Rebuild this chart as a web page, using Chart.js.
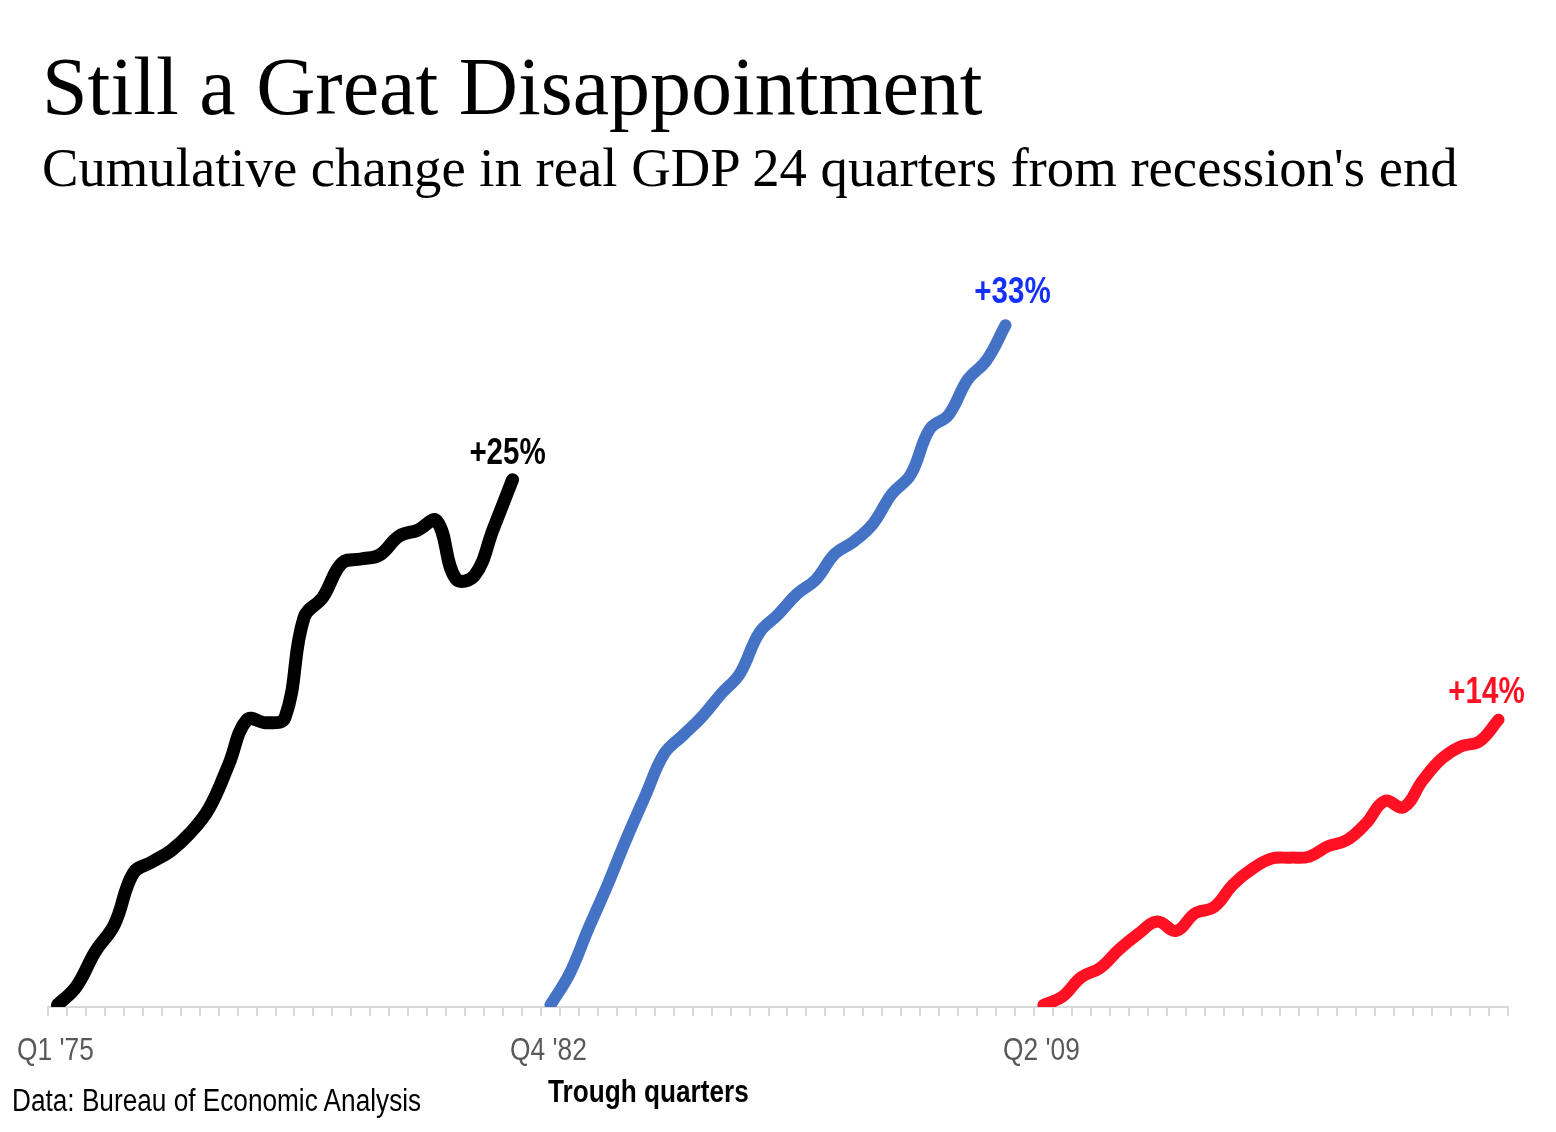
<!DOCTYPE html>
<html>
<head>
<meta charset="utf-8">
<script src="https://cdn.jsdelivr.net/npm/chart.js@4"></script>
<style>
  html, body { margin: 0; padding: 0; background: #ffffff; }
  body { width: 1556px; height: 1132px; position: relative; overflow: hidden; }
  #chart { position: absolute; left: 0; top: 0; }
  .t { position: absolute; white-space: nowrap; line-height: 1; margin: 0; }
  .narrow { font-family: "Liberation Sans Narrow", "Arial Narrow", "Liberation Sans", Arial, sans-serif; transform: scaleX(0.845); transform-origin: 0 0; }
  #title { left: 42px; top: 46px; font-family: "Liberation Serif", "Times New Roman", serif; font-size: 82px; color: #000; }
  #subtitle { left: 42px; top: 141px; font-family: "Liberation Serif", "Times New Roman", serif; font-size: 54.7px; color: #000; }
  #source { left: 12px; top: 1085px; font-size: 31px; color: #000; }
  #xtitle { left: 548px; top: 1076px; font-size: 31px; font-weight: bold; color: #000; }
</style>
</head>
<body>
<canvas id="chart" width="1556" height="1132"></canvas>
<div class="t" id="title">Still a Great Disappointment</div>
<div class="t" id="subtitle">Cumulative change in real GDP 24 quarters from recession's end</div>
<div class="t narrow" id="source">Data: Bureau of Economic Analysis</div>
<div class="t narrow" id="xtitle">Trough quarters</div>
<script>
// Trough quarters (start of each recovery) and the end-of-period labels
const troughLabels = ["Q1 '75", "Q4 '82", "Q2 '09"];
const endLabels = ["+25%", "+33%", "+14%"];
const quartersPerRecovery = 25; // quarter 0 .. quarter 24
const gapBetween = 1;

// Cumulative change in real GDP (%) by quarter since the trough
const recovery1975 = [0, 0.9, 2.6, 3.9, 6.4, 6.95, 7.5, 8.35, 9.55, 11.6, 13.85, 13.7, 13.95, 18.8, 19.8, 21.45, 21.65, 21.85, 22.75, 23.05, 23.5, 20.7, 20.85, 23.15, 25.5];
const recovery1982 = [0, 1.5, 3.7, 5.8, 8.05, 10.15, 12.2, 13.1, 14.0, 15.1, 16.1, 18.05, 18.95, 19.95, 20.65, 21.9, 22.5, 23.35, 24.8, 25.75, 27.95, 28.65, 30.35, 31.3, 33.0];
const recovery2009 = [0, 0.4, 1.35, 1.8, 2.7, 3.45, 4.05, 3.6, 4.45, 4.75, 5.85, 6.6, 7.1, 7.15, 7.2, 7.7, 8.0, 8.8, 9.9, 9.6, 10.9, 11.95, 12.55, 12.8, 13.85];

const seriesList = [recovery1975, recovery1982, recovery2009];
const lineColors = ['#000000', '#4472C4', '#FF1022'];
const labelColors = ['#000000', '#1430FF', '#FF1022'];
const lineWidths = [13, 12, 12];
const labelOffsets = [[-5, 16], [7, 22], [-12, 17]];

// Build the shared category axis: three recoveries laid side by side
const segment = quartersPerRecovery + gapBetween;
const total = seriesList.length * segment - gapBetween;
const categories = [];
for (let i = 0; i < total; i++) {
  const s = Math.floor(i / segment), q = i % segment;
  categories.push(q === 0 ? troughLabels[s] : (q < quartersPerRecovery ? 'Q+' + q : ''));
}

const datasets = seriesList.map((vals, s) => {
  const data = new Array(total).fill(null);
  vals.forEach((v, q) => { data[s * segment + q] = v; });
  return {
    label: troughLabels[s],
    data,
    borderColor: lineColors[s],
    backgroundColor: lineColors[s],
    borderWidth: lineWidths[s],
    borderCapStyle: 'round',
    borderJoinStyle: 'round',
    pointRadius: 0,
    pointHoverRadius: 0,
    tension: 0.4,
    spanGaps: false,
    fill: false
  };
});

const sansFam = '"Liberation Sans Narrow", "Arial Narrow", "Liberation Sans", Arial, sans-serif';

function narrowText(ctx, text, x, y, k) {
  ctx.save();
  ctx.translate(x, y);
  ctx.scale(k, 1);
  ctx.fillText(text, 0, 0);
  ctx.restore();
}

const textPlugin = {
  id: 'narrowTexts',
  afterDatasetsDraw(chart) {
    const ctx = chart.ctx;
    ctx.save();
    // end-of-line labels
    ctx.font = 'bold 36px ' + sansFam;
    ctx.textAlign = 'center';
    ctx.textBaseline = 'alphabetic';
    chart.data.datasets.forEach((ds, s) => {
      const meta = chart.getDatasetMeta(s);
      let last = -1;
      ds.data.forEach((v, i) => { if (v !== null) last = i; });
      const pt = meta.data[last];
      ctx.fillStyle = labelColors[s];
      narrowText(ctx, endLabels[s], pt.x + labelOffsets[s][0], pt.y - labelOffsets[s][1], 0.82);
    });
    // trough quarter tick labels
    const xs = chart.scales.x;
    ctx.font = '31px ' + sansFam;
    ctx.fillStyle = '#595959';
    troughLabels.forEach((lab, s) => {
      const px = xs.getPixelForValue(s * segment);
      narrowText(ctx, lab, px - 2, xs.top + 53, 0.85);
    });
    ctx.restore();
  }
};

new Chart(document.getElementById('chart'), {
  type: 'line',
  data: { labels: categories, datasets },
  plugins: [textPlugin],
  options: {
    responsive: false,
    animation: false,
    events: [],
    layout: { padding: { left: 48, right: 48, top: 284, bottom: 65 } },
    plugins: { legend: { display: false }, tooltip: { enabled: false }, title: { display: false } },
    scales: {
      x: {
        type: 'category',
        offset: true,
        afterFit(scale) { scale.height = 60; },
        grid: {
          offset: true,
          drawOnChartArea: false,
          drawTicks: true,
          tickLength: 9,
          color: '#d9d9d9',
          lineWidth: 2
        },
        border: { display: true, color: '#d9d9d9', width: 2 },
        ticks: {
          display: false,
          autoSkip: false,
          maxRotation: 0,
          minRotation: 0
        }
      },
      y: {
        display: false,
        min: -0.1,
        max: 35
      }
    }
  }
});
</script>
</body>
</html>
